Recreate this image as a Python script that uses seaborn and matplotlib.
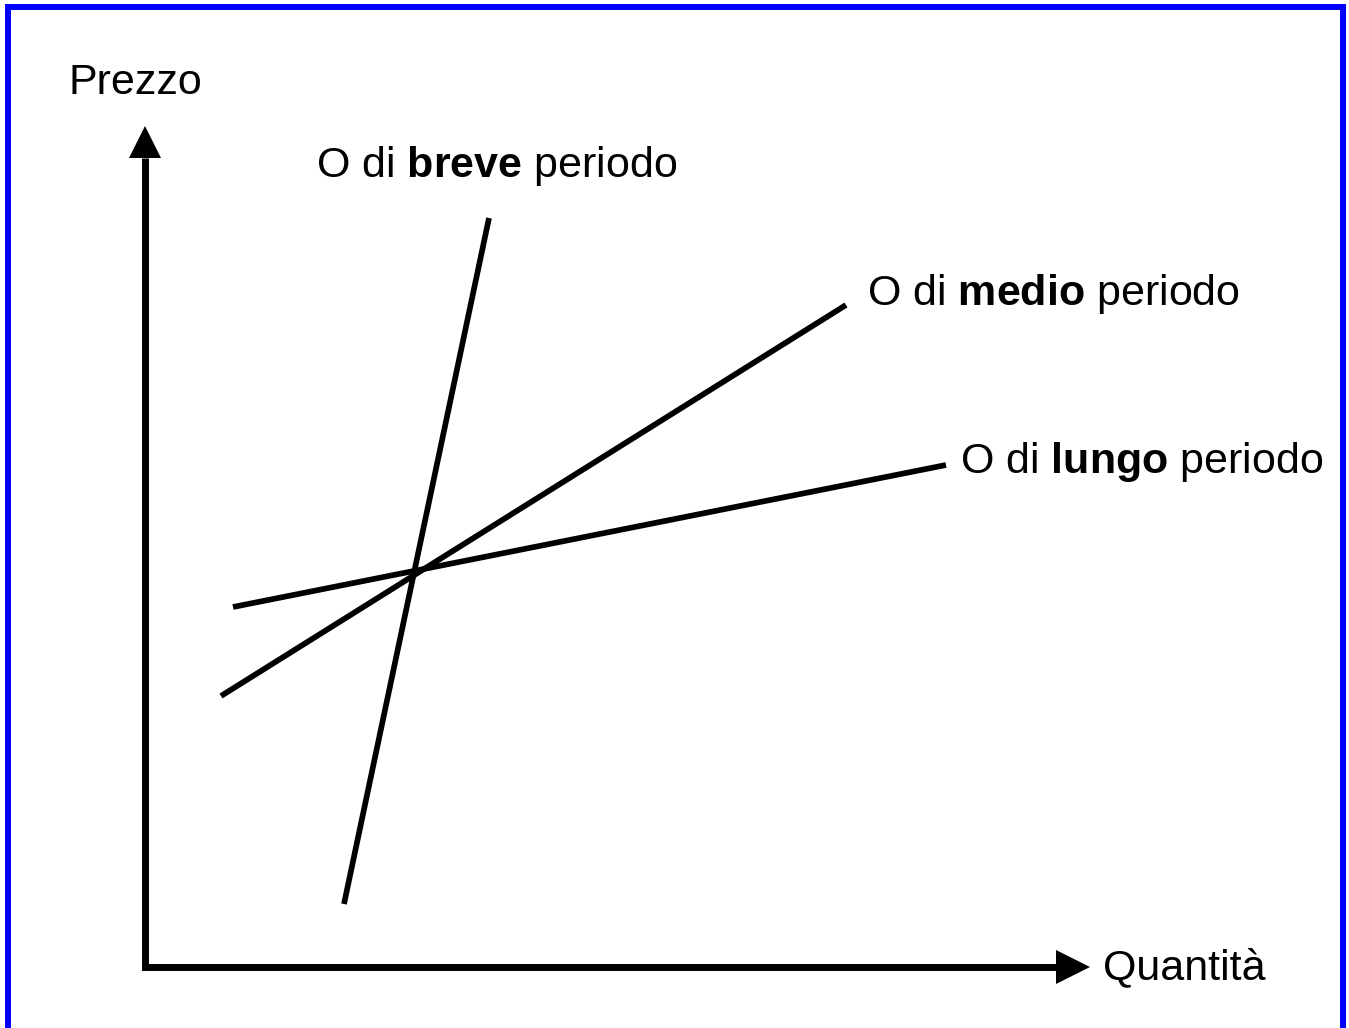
import matplotlib
matplotlib.use("Agg")
import matplotlib.pyplot as plt
import seaborn as sns
import pandas as pd
from matplotlib.patches import Rectangle

sns.set_theme(style="white")
plt.rcParams["font.family"] = ["Liberation Sans", "DejaVu Sans"]
plt.rcParams["mathtext.fontset"] = "custom"
plt.rcParams["mathtext.rm"] = "Liberation Sans"
plt.rcParams["mathtext.bf"] = "Liberation Sans:bold"
plt.rcParams["text.color"] = "black"

# --- data (quantity, price) endpoints of the three supply curves ---
curve_names = ["breve", "medio", "lungo"]
breve_q = [199, 344]
breve_p = [63, 749]
medio_q = [76, 701]
medio_p = [271, 662]
lungo_q = [88, 801]
lungo_p = [360, 502]

# axis arrows
y_axis_top = 842
x_axis_right = 944
head_len = 33

label_x = "Quantità"
label_y = "Prezzo"
curve_labels = [r"O di $\mathbf{breve}$ periodo",
                r"O di $\mathbf{medio}$ periodo",
                r"O di $\mathbf{lungo}$ periodo"]
label_q = [171, 722, 815]
label_p = [801, 673, 505]

df = pd.concat([
    pd.DataFrame({"Q": breve_q, "P": breve_p, "curve": "breve"}),
    pd.DataFrame({"Q": medio_q, "P": medio_p, "curve": "medio"}),
    pd.DataFrame({"Q": lungo_q, "P": lungo_p, "curve": "lungo"}),
])

fig = plt.figure(figsize=(13.49, 10.28), dpi=100)
ax = fig.add_axes([0, 0, 1, 1])
ax.set_xlim(-145, 1204)
ax.set_ylim(-61, 967)
ax.axis("off")

# blue frame
fig.patches.append(Rectangle((8 / 1349, -0.05), (1343 - 8) / 1349, 1 - 7 / 1028 + 0.05,
                             transform=fig.transFigure, fill=False,
                             edgecolor="#0000ff", lw=4.3, zorder=0))

sns.lineplot(data=df, x="Q", y="P", units="curve", estimator=None,
             color="black", lw=4.1, ax=ax, legend=False, sort=False,
             solid_capstyle="butt")

# axes lines
ax.plot([0, 0, x_axis_right - head_len], [y_axis_top - head_len, 0, 0],
        color="black", lw=5.0, solid_joinstyle="miter", solid_capstyle="butt")
ax.plot([0], [y_axis_top - head_len / 2], marker="^", markersize=23.5,
        color="black", markeredgewidth=0)
ax.plot([x_axis_right - head_len / 2], [0], marker=">", markersize=24,
        color="black", markeredgewidth=0)

fs = 31
ax.text(-77, 884, label_y, fontsize=fs, va="center", ha="left", color="black")
ax.text(958, -1, label_x, fontsize=fs, va="center", ha="left", color="black")
for t, q, p in zip(curve_labels, label_q, label_p):
    ax.text(q, p, t, fontsize=fs, va="center", ha="left", color="black")

fig.savefig("out.png", dpi=100)
